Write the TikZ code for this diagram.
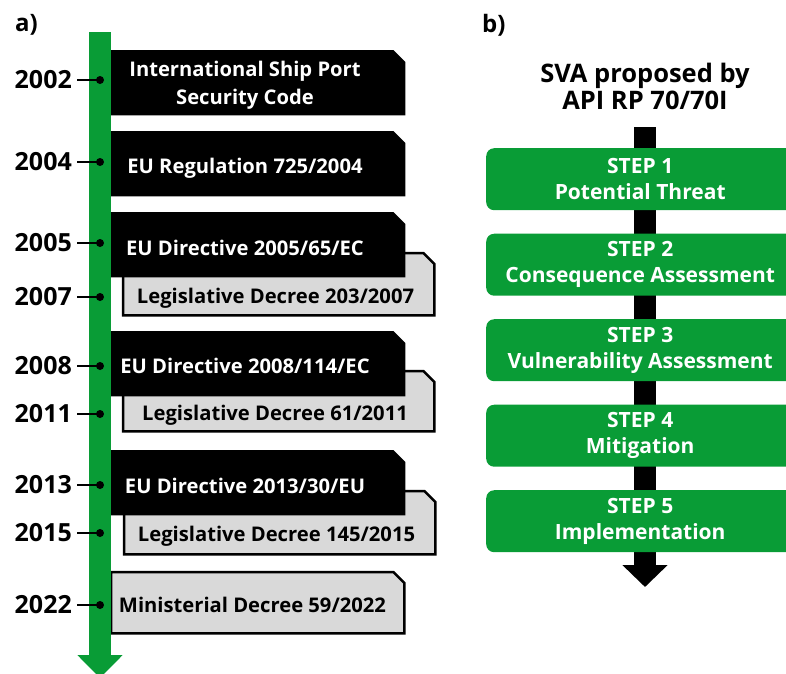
\documentclass[tikz,border=0pt]{standalone}
\usepackage{fontspec}
\setmainfont{Open Sans}
\usepackage{tikz}
\usetikzlibrary{arrows.meta}

\definecolor{timegreen}{RGB}{9,156,54}
\definecolor{decreegray}{RGB}{217,217,217}

\tikzset{
    year/.style = {anchor=east, inner xsep=5pt, inner ysep=0pt, font=\fontsize{25}{28}\selectfont\bfseries},
    dot/.style = {circle, fill=black, inner sep=0pt, minimum size=8pt},
    law/.style = {rectangle, inner sep=0pt, anchor=north west, minimum width=294pt},
    decree/.style = {law},
    lawtext/.style = {text=white, align=center, font=\fontsize{20.2}{28}\selectfont\bfseries},
    decreetext/.style = {lawtext, text=black, anchor=base},
    cut/.style = {line width=2.5pt, line join=miter},
    stepbox/.style = {rounded corners=8pt, fill=timegreen, text=white, align=center,
        minimum width=308pt, minimum height=62pt, inner sep=0pt, anchor=north west,
        font=\fontsize{21}{26}\selectfont\bfseries},
    panel/.style = {anchor=west, inner sep=0pt, font=\fontsize{24}{26}\selectfont\bfseries}
}

\begin{document}
\begin{tikzpicture}[x=1pt, y=-1pt]
    \useasboundingbox (0,0) rectangle (786,673);
    \node [panel] (pa) at (15,25) {a)};
    \node [panel] (pb) at (482,25) {b)};

    \foreach \yr/\top/\len/\ht/\left in {2007/253/311/62/123, 2011/371/311/60/123, 2015/491/311/63/124, 2022/572/293/61/111}
        {
        \node [decree, minimum width=\len pt, minimum height=\ht pt] (g\yr) at (\left,\top) {};
        \filldraw [cut, fill=decreegray] (g\yr.south west) |- ([xshift=-11pt]g\yr.north east)
            -- ([yshift=-11pt]g\yr.north east) -- (g\yr.south east) -- cycle;
        }

    \foreach \yr/\top/\anc/\ty/\txt in {2002/50/center/85/{International Ship Port\\Security Code},
        2004/131/base/173/{EU Regulation 725/2004},
        2005/212/base/255/{EU Directive 2005/65/EC},
        2008/331/base/373/{EU Directive 2008/114/EC},
        2013/450/base/493/{EU Directive 2013/30/EU}}
        {
        \node [law, minimum height=65pt] (b\yr) at (111,\top) {};
        \fill (b\yr.south west) |- ([xshift=-12pt]b\yr.north east)
            -- ([yshift=-12pt]b\yr.north east) -- (b\yr.south east) -- cycle;
        \node [lawtext, anchor=\anc] (tb\yr) at (245,\ty) {\txt};
        }

    \foreach \yr/\tx/\ty/\txt in {2007/275.5/303/{Legislative Decree 203/2007},
        2011/275/420/{Legislative Decree 61/2011},
        2015/276.5/541/{Legislative Decree 145/2015},
        2022/252.5/612/{Ministerial Decree 59/2022}}
        \node [decreetext] (tg\yr) at (\tx,\ty) {\txt};

    \coordinate (tl top) at (100,32);
    \coordinate (tl end) at (100,678);
    \draw [timegreen, line width=22pt, -{Triangle[width=44pt, length=23pt]}] (tl top) -- (tl end);

    \foreach \yr/\y in {2002/80, 2004/162, 2005/243, 2007/297, 2008/366, 2011/414, 2013/485, 2015/533, 2022/605}
        {
        \node [year] (y\yr) at (77,\y) {\yr};
        \node [dot] (d\yr) at (100,\y) {};
        \draw [line width=2pt] (y\yr.east) -- (d\yr.center);
        }

    \node [align=center, font=\fontsize{25.5}{27}\selectfont\bfseries] (sva) at (645,86) {SVA proposed by\\API RP 70/70I};

    \coordinate (sv top) at (645,127);
    \coordinate (sv end) at (645,587);
    \draw [line width=22pt, -{Triangle[width=44pt, length=22pt]}] (sv top) -- (sv end);

    \foreach \i/\name in {1/Potential Threat, 2/Consequence Assessment, 3/Vulnerability Assessment, 4/Mitigation, 5/Implementation}
        \node [stepbox] (s\i) at (486, {148+85.5*(\i-1)}) {STEP \i\\\name};
\end{tikzpicture}
\end{document}
